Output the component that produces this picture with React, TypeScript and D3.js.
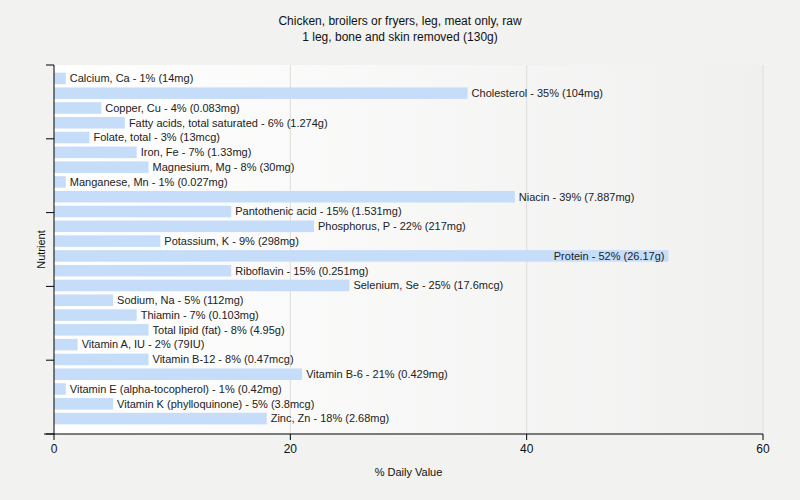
import React from "react";
import * as d3 from "d3";

const nutrients = [
  "Calcium, Ca",
  "Cholesterol",
  "Copper, Cu",
  "Fatty acids, total saturated",
  "Folate, total",
  "Iron, Fe",
  "Magnesium, Mg",
  "Manganese, Mn",
  "Niacin",
  "Pantothenic acid",
  "Phosphorus, P",
  "Potassium, K",
  "Protein",
  "Riboflavin",
  "Selenium, Se",
  "Sodium, Na",
  "Thiamin",
  "Total lipid (fat)",
  "Vitamin A, IU",
  "Vitamin B-12",
  "Vitamin B-6",
  "Vitamin E (alpha-tocopherol)",
  "Vitamin K (phylloquinone)",
  "Zinc, Zn",
];

const dailyValues = [1, 35, 4, 6, 3, 7, 8, 1, 39, 15, 22, 9, 52, 15, 25, 5, 7, 8, 2, 8, 21, 1, 5, 18];

const amounts = [
  "14mg", "104mg", "0.083mg", "1.274g", "13mcg", "1.33mg", "30mg", "0.027mg",
  "7.887mg", "1.531mg", "217mg", "298mg", "26.17g", "0.251mg", "17.6mcg", "112mg",
  "0.103mg", "4.95g", "79IU", "0.47mcg", "0.429mg", "0.42mg", "3.8mcg", "2.68mg",
];

const xTicks = [0, 20, 40, 60];

const title = ["Chicken, broilers or fryers, leg, meat only, raw", "1 leg, bone and skin removed (130g)"];

const W = 800;
const H = 500;
const left = 54;
const right = 763;
const top = 65;
const bottom = 434;
const font = "'Liberation Sans', Arial, sans-serif";

export default function App() {
  const x = d3.scaleLinear().domain([0, 60]).range([left, right]);
  const y = d3.scaleBand<string>().domain(nutrients).range([71, 426]).paddingInner(0.22).paddingOuter(0.11);
  const leftTicks = d3.range(6).map((i) => top + ((bottom - top) * i) / 5);

  return (
    <svg width={W} height={H} style={{ position: "absolute", left: 0, top: 0, background: "#f2f2f0" }} fontFamily={font}>
      <defs>
        <linearGradient id="plotBg" x1="0" x2="1" y1="0" y2="0">
          <stop offset="0" stopColor="#ffffff" />
          <stop offset="1" stopColor="#f0f0ef" />
        </linearGradient>
      </defs>
      {title.map((t, i) => (
        <text key={t} x={W / 2} y={25 + i * 16} textAnchor="middle" fontSize={12} fill="#111">
          {t}
        </text>
      ))}
      <rect x={left} y={top} width={right - left} height={bottom - top} fill="url(#plotBg)" />
      {xTicks.slice(1).map((t) => (
        <line key={t} x1={x(t)} x2={x(t)} y1={top} y2={bottom} stroke="#dddddd" />
      ))}
      {nutrients.map((n, i) => {
        const v = dailyValues[i];
        const label = `${n} - ${v}% (${amounts[i]})`;
        const bx = x(v);
        const inside = n === "Protein";
        return (
          <g key={n}>
            <rect x={left} y={y(n)} width={bx - left} height={y.bandwidth()} fill="#c6ddfa" />
            <text
              x={inside ? bx - 4 : bx + 4}
              y={(y(n) as number) + y.bandwidth() / 2}
              dy="0.35em"
              textAnchor={inside ? "end" : "start"}
              fontSize={11}
              fill="#222"
            >
              {label}
            </text>
          </g>
        );
      })}
      <line x1={left} x2={left} y1={top} y2={bottom} stroke="#000" />
      {leftTicks.map((t) => (
        <line key={t} x1={left - 8} x2={left} y1={t} y2={t} stroke="#000" />
      ))}
      <line x1={left - 10} x2={right} y1={bottom} y2={bottom} stroke="#000" />
      {xTicks.map((t) => (
        <g key={t}>
          <line x1={x(t)} x2={x(t)} y1={bottom} y2={bottom + 6} stroke="#000" />
          <text x={x(t)} y={bottom + 19} textAnchor="middle" fontSize={12} fill="#111">
            {t}
          </text>
        </g>
      ))}
      <text x={(left + right) / 2} y={476} textAnchor="middle" fontSize={11} fill="#111">
        % Daily Value
      </text>
      <text transform={`translate(45, ${(top + bottom) / 2}) rotate(-90)`} textAnchor="middle" fontSize={11} fill="#111">
        Nutrient
      </text>
    </svg>
  );
}
